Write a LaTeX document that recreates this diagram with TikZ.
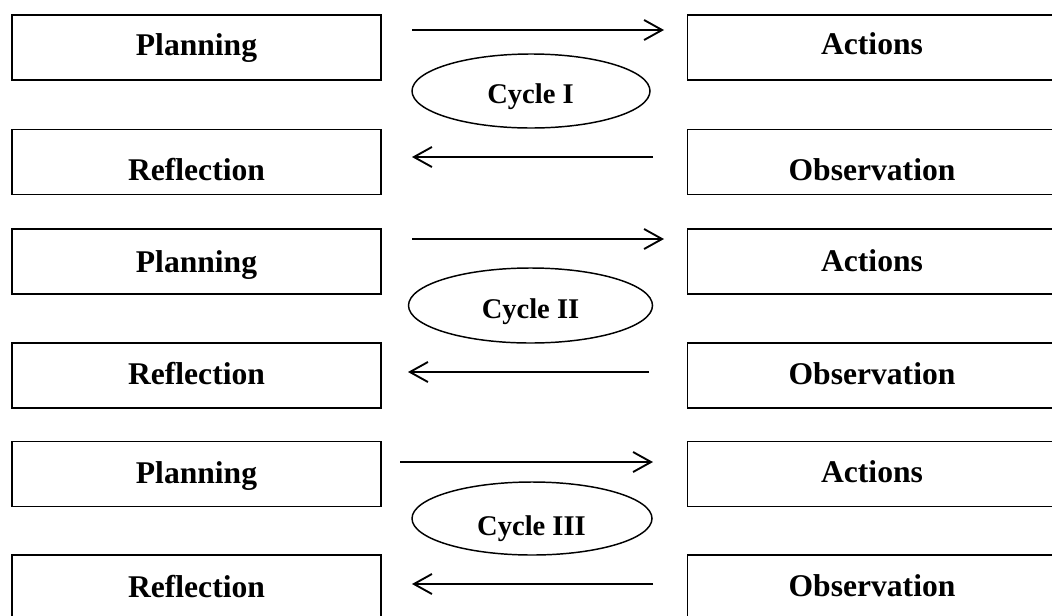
\documentclass[tikz,border=0pt]{standalone}
\usepackage{fontspec}
\setmainfont{Liberation Serif}
\usetikzlibrary{arrows.meta,shapes.geometric}
\tikzset{
  box/.style={draw, line width=1.4pt, rectangle, inner sep=0pt, minimum width=369*0.75pt, minimum height=65*0.75pt},
  cyc/.style={draw, line width=1.1pt, ellipse, inner sep=0pt},
  lbl/.style={anchor=base, inner sep=0pt, font=\fontsize{23.7}{26}\selectfont\bfseries},
  clbl/.style={anchor=base, inner sep=0pt, font=\fontsize{21.4}{24}\selectfont\bfseries},
  conn/.style={line width=1.4pt, -{Straight Barb[length=13.5pt, width=15pt, line width=1.4pt]}}
}
\begin{document}
\begin{tikzpicture}[x=0.75pt,y=-0.75pt]
\useasboundingbox (0,0) rectangle (1052,615);
\fill[white] (0,0) rectangle (1052,615);
\clip (0,0) rectangle (1052,615);
% boxes
\node[box] (p1) at (196.5,47.5) {};
\node[box] (a1) at (872,47.5) {};
\node[box] (r1) at (196.5,162) {};
\node[box] (o1) at (872,162) {};
\node[box] (p2) at (196.5,261.5) {};
\node[box] (a2) at (872,261.5) {};
\node[box] (r2) at (196.5,375.5) {};
\node[box] (o2) at (872,375.5) {};
\node[box] (p3) at (196.5,474) {};
\node[box] (a3) at (872,474) {};
\node[box] (r3) at (196.5,587.5) {};
\node[box] (o3) at (872,587.5) {};
% labels
\node[lbl] (tp1) at (196.5,55) {Planning};
\node[lbl] (ta1) at (872,54) {Actions};
\node[lbl] (tr1) at (196.5,180) {Reflection};
\node[lbl] (to1) at (872,180) {Observation};
\node[lbl] (tp2) at (196.5,272) {Planning};
\node[lbl] (ta2) at (872,271) {Actions};
\node[lbl] (tr2) at (196.5,384.5) {Reflection};
\node[lbl] (to2) at (872,384) {Observation};
\node[lbl] (tp3) at (196.5,483) {Planning};
\node[lbl] (ta3) at (872,482) {Actions};
\node[lbl] (tr3) at (196.5,597) {Reflection};
\node[lbl] (to3) at (872,596) {Observation};
% cycles
\node[cyc, minimum width=238*0.75pt, minimum height=74*0.75pt] (c1) at (531,91) {};
\node[cyc, minimum width=244*0.75pt, minimum height=75*0.75pt] (c2) at (530.5,305.5) {};
\node[cyc, minimum width=240*0.75pt, minimum height=73*0.75pt] (c3) at (532,518.5) {};
\node[clbl] (tc1) at (530.5,103) {Cycle I};
\node[clbl] (tc2) at (530.5,318) {Cycle II};
\node[clbl] (tc3) at (531.5,535) {Cycle III};
% arrow end points
\coordinate (s1) at (412,30);  \coordinate (e1) at (664,30);
\coordinate (s2) at (653,157); \coordinate (e2) at (412,157);
\coordinate (s3) at (412,239); \coordinate (e3) at (664,239);
\coordinate (s4) at (649,372); \coordinate (e4) at (408,372);
\coordinate (s5) at (400,462); \coordinate (e5) at (653,462);
\coordinate (s6) at (653,584); \coordinate (e6) at (412,584);
\draw[conn] (s1) -- (e1);
\draw[conn] (s2) -- (e2);
\draw[conn] (s3) -- (e3);
\draw[conn] (s4) -- (e4);
\draw[conn] (s5) -- (e5);
\draw[conn] (s6) -- (e6);
\end{tikzpicture}
\end{document}
